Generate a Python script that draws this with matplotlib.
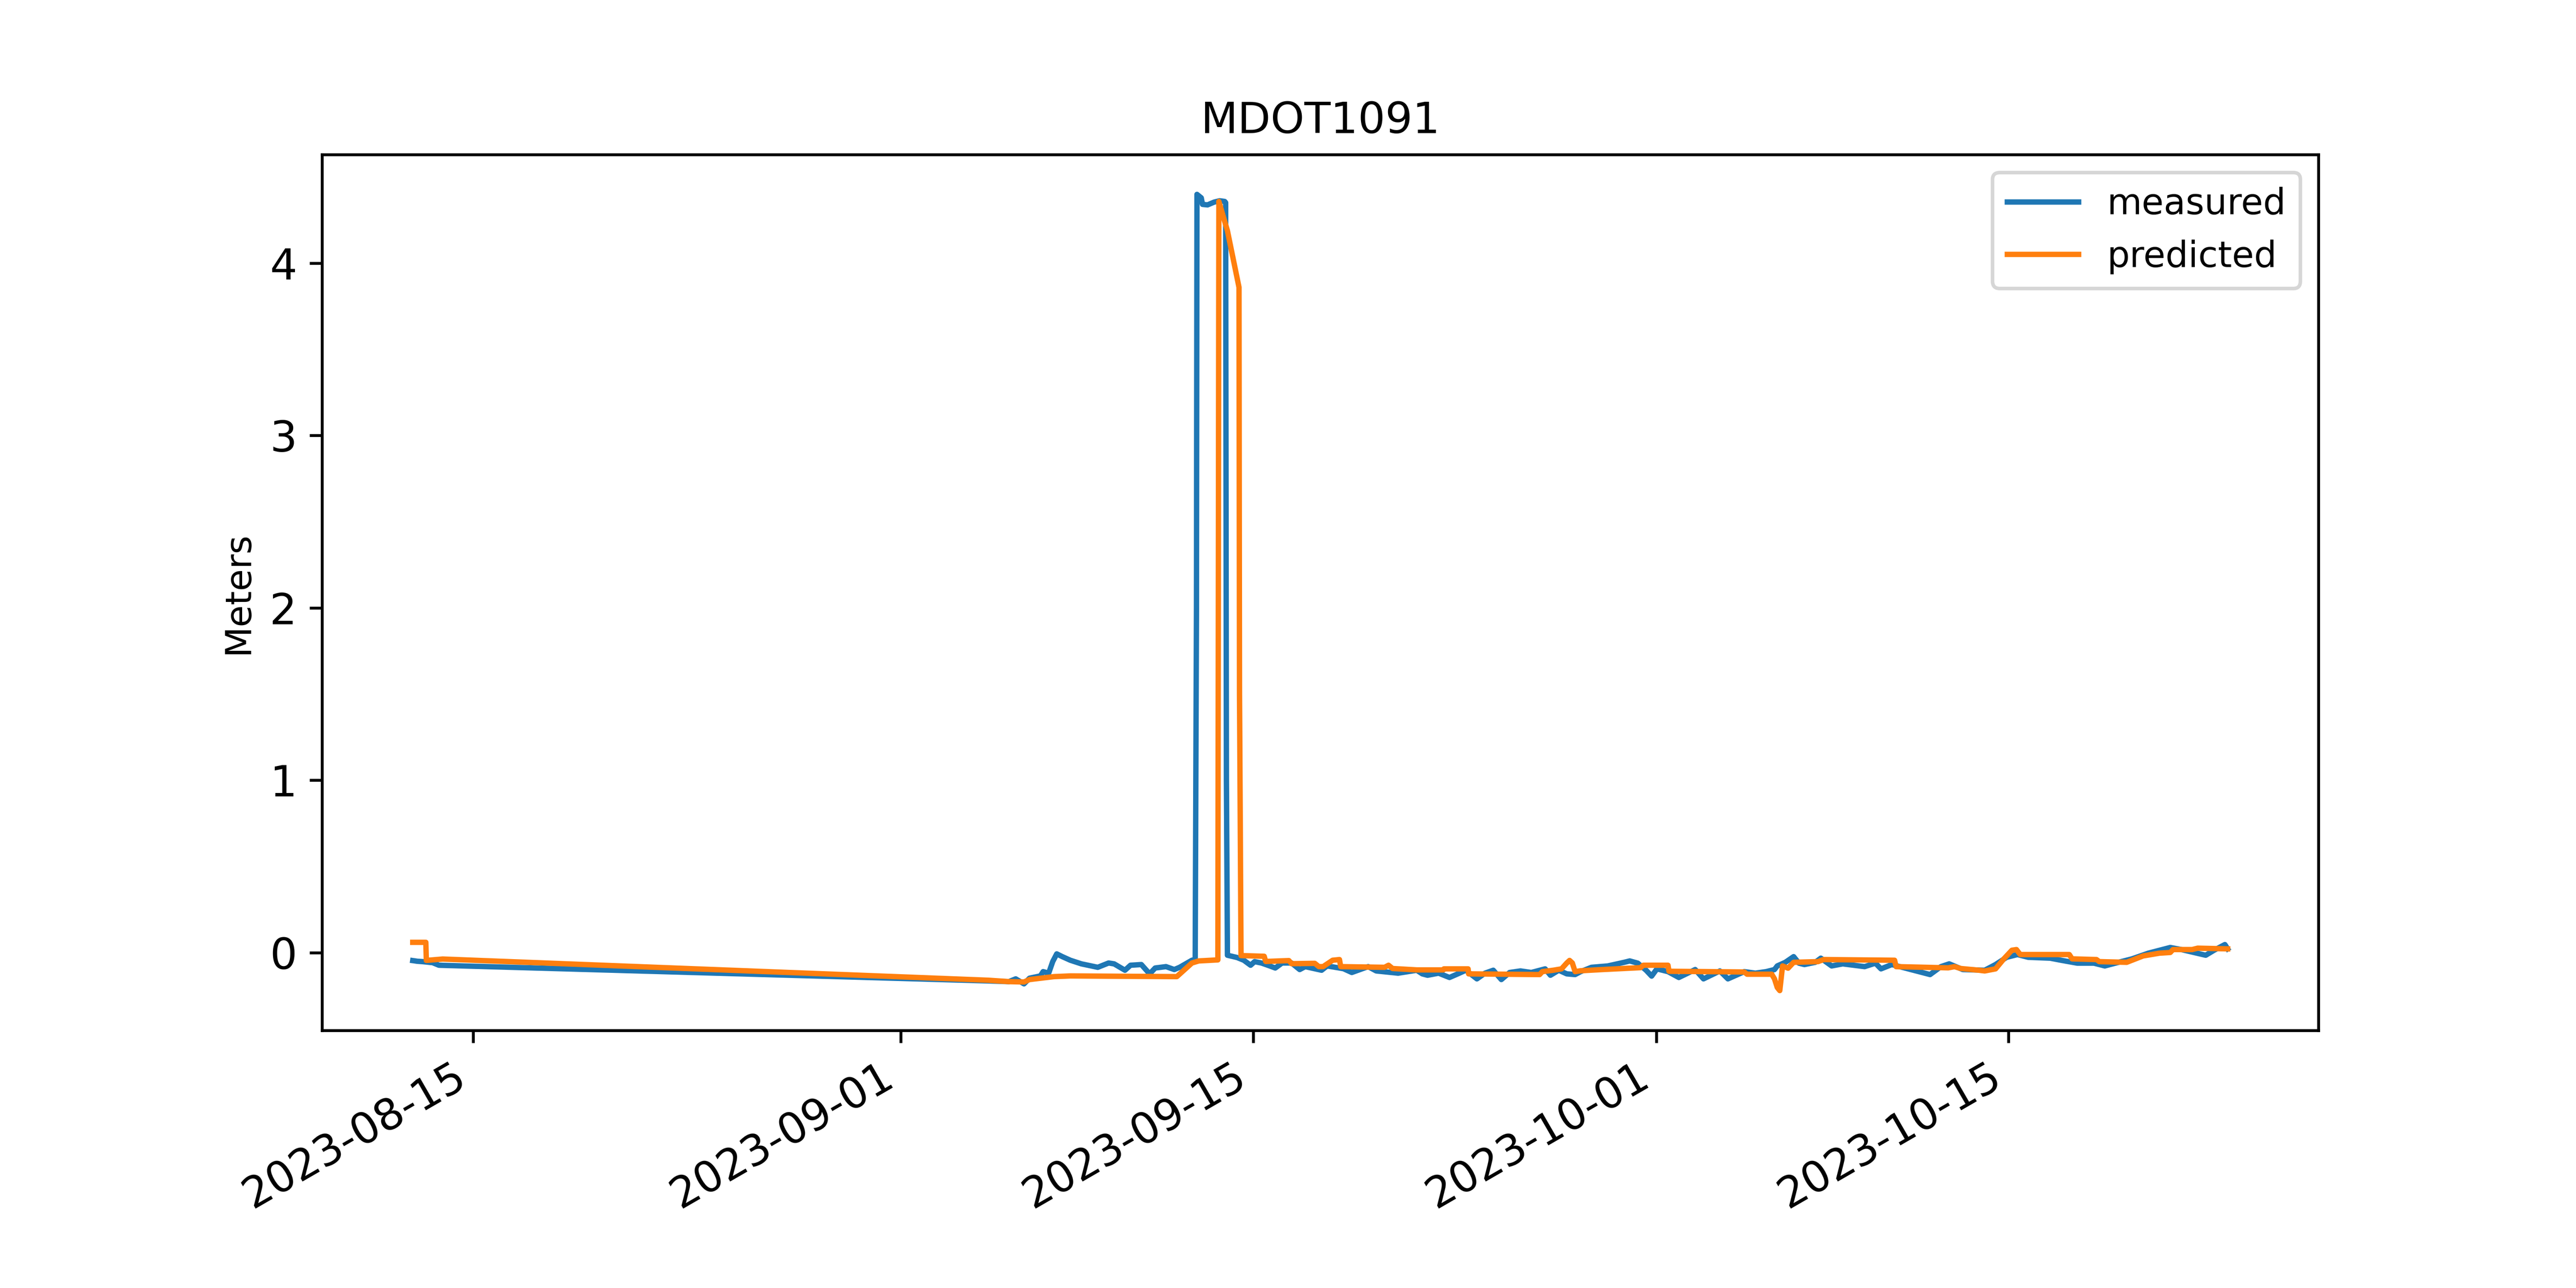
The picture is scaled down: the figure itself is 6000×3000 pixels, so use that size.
import matplotlib
matplotlib.use('Agg')
import matplotlib.pyplot as plt
import numpy as np
import pandas as pd

# station and time origin (days below are counted from this date)
station = 'MDOT1091'
origin = pd.Timestamp('2023-08-15')

# measured water level: (days after origin, meters)
measured_days = [
    -2.39, -2.20, -2.00, -1.60, -1.35,
    20.48, 21.29, 21.56, 21.89, 22.11, 22.54, 22.65, 22.87, 23.03, 23.19,
    23.41, 23.73, 24.17, 24.82, 25.25, 25.47, 25.90, 26.12, 26.55, 26.88,
    27.10, 27.53, 27.86, 28.07, 28.56, 28.69,
    28.74, 28.76, 28.93, 28.98, 29.18, 29.44, 29.66, 29.86, 29.90,
    29.93, 29.97, 30.35, 30.62, 30.89, 31.05, 31.32, 31.65, 31.87, 32.14,
    32.52, 32.84, 33.06, 33.71, 33.93, 34.58, 34.91, 35.56, 35.88, 36.75,
    37.49, 37.71, 37.92, 38.36, 38.79, 39.12, 39.44, 39.88, 40.20, 40.53,
    40.85, 41.18, 41.61, 42.04, 42.59, 42.80, 43.13, 43.45, 43.78, 44.00,
    44.43, 45.08, 45.73, 45.95, 46.27, 46.60, 46.82, 47.03, 47.47, 47.90,
    48.55, 48.88, 49.53, 49.85, 50.50, 50.94, 51.37, 51.70, 51.81, 52.13,
    52.46, 52.67, 52.89, 53.32, 53.54, 53.97, 54.41, 55.28, 55.71, 55.93,
    56.36, 57.01, 57.88, 58.31, 58.64, 59.18, 60.05, 60.48, 60.92, 61.35,
    61.78, 62.65, 63.08, 63.73, 64.39, 64.82, 65.47, 65.90, 66.55, 67.42,
    67.86, 68.83, 69.16, 69.59, 69.70,
]
measured_m = [
    -0.046, -0.050, -0.052, -0.058, -0.073,
    -0.164, -0.168, -0.152, -0.181, -0.148, -0.135, -0.110, -0.119, -0.052, -0.007,
    -0.023, -0.044, -0.065, -0.085, -0.060, -0.065, -0.102, -0.073, -0.069, -0.123,
    -0.089, -0.081, -0.098, -0.085, -0.044, -0.040,
    2.000, 4.398, 4.378, 4.340, 4.337, 4.353, 4.361, 4.357, 4.350,
    1.000, -0.015, -0.028, -0.044, -0.073, -0.052, -0.060, -0.077, -0.089, -0.060,
    -0.060, -0.098, -0.081, -0.102, -0.077, -0.093, -0.115, -0.081, -0.106, -0.119,
    -0.102, -0.123, -0.131, -0.119, -0.144, -0.123, -0.102, -0.152, -0.119, -0.102,
    -0.156, -0.115, -0.106, -0.115, -0.094, -0.131, -0.102, -0.123, -0.127, -0.110,
    -0.085, -0.077, -0.056, -0.048, -0.061, -0.102, -0.136, -0.094, -0.110, -0.144,
    -0.098, -0.152, -0.106, -0.152, -0.110, -0.119, -0.110, -0.098, -0.077, -0.056,
    -0.023, -0.061, -0.069, -0.056, -0.032, -0.077, -0.065, -0.081, -0.061, -0.094,
    -0.069, -0.094, -0.127, -0.081, -0.065, -0.098, -0.102, -0.069, -0.027, -0.011,
    -0.027, -0.032, -0.044, -0.061, -0.061, -0.077, -0.052, -0.036, -0.003, 0.030,
    0.018, -0.015, 0.014, 0.047, 0.022,
]

# predicted water level: (days after origin, meters)
predicted_days = [
    -2.39, -1.87, -1.85, -1.20,
    20.48, 21.29, 21.89, 22.11, 23.08, 23.73, 27.96, 28.56, 28.83, 29.59,
    29.63, 29.97, 30.43, 30.45,
    30.51, 31.43, 31.49, 32.41, 32.52, 33.44, 33.60, 33.77, 34.15, 34.42,
    34.47, 36.21, 36.37, 36.53,
    37.49, 38.55, 38.57, 39.53, 39.55, 42.37, 42.48, 42.91, 43.24, 43.45,
    43.56, 43.67, 43.78, 44.00, 44.86, 46.38, 46.49, 47.47, 47.51, 50.50,
    50.61, 51.59, 51.70, 51.81, 51.91, 52.02, 52.24, 52.46, 53.43, 53.65,
    56.47, 56.53, 58.60, 58.85, 59.10, 59.83, 60.05, 60.48, 60.81, 61.13,
    61.31, 61.46, 63.41, 63.52, 64.49, 64.60, 65.69, 66.34, 66.99, 67.42,
    67.53, 68.29, 68.51, 69.70,
]
predicted_m = [
    0.060, 0.060, -0.045, -0.037,
    -0.160, -0.168, -0.170, -0.156, -0.139, -0.135, -0.139, -0.060, -0.048, -0.042,
    4.357, 4.187, 3.859, 1.500,
    -0.017, -0.021, -0.051, -0.046, -0.064, -0.062, -0.081, -0.081, -0.044, -0.040,
    -0.081, -0.085, -0.073, -0.092,
    -0.100, -0.100, -0.094, -0.094, -0.123, -0.127, -0.110, -0.102, -0.094, -0.060,
    -0.045, -0.060, -0.110, -0.105, -0.098, -0.087, -0.073, -0.073, -0.108, -0.112,
    -0.125, -0.125, -0.152, -0.202, -0.220, -0.077, -0.090, -0.056, -0.052, -0.040,
    -0.044, -0.081, -0.088, -0.081, -0.092, -0.102, -0.106, -0.094, -0.036, 0.014,
    0.018, -0.011, -0.011, -0.036, -0.040, -0.052, -0.056, -0.019, -0.003, 0.001,
    0.018, 0.018, 0.026, 0.022,
]

measured_time = origin + pd.to_timedelta(measured_days, unit='D')
predicted_time = origin + pd.to_timedelta(predicted_days, unit='D')

fig, ax = plt.subplots(figsize=(10, 5))

ax.plot(measured_time, measured_m, label='measured')
ax.plot(predicted_time, predicted_m, label='predicted')

ax.set_title(station)
ax.set_ylabel('Meters')
ax.tick_params(axis='both', labelsize=12)
ax.legend(loc='upper right')

fig.autofmt_xdate()

plt.savefig('out.png', dpi=600)
plt.close()
